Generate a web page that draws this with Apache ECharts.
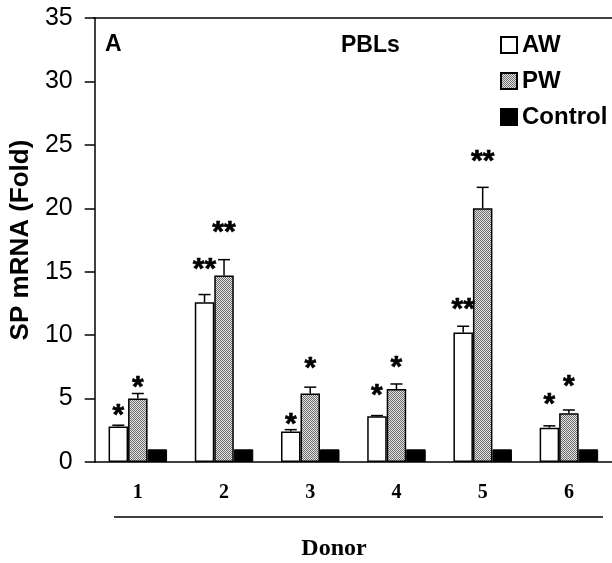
<!DOCTYPE html>
<html><head><meta charset="utf-8">
<script src="https://cdn.jsdelivr.net/npm/echarts@6/dist/echarts.min.js"></script>
<style>html,body{margin:0;padding:0;background:#fff}#c{width:612px;height:563px}</style>
</head><body><div id="c"></div>
<script>
const donors = ['1', '2', '3', '4', '5', '6'];
const awMean = [2.8, 12.6, 2.4, 3.6, 10.2, 2.7];
const awErr = [0.1, 0.6, 0.15, 0.06, 0.5, 0.15];
const pwMean = [5.0, 14.7, 5.4, 5.75, 20.0, 3.85];
const pwErr = [0.4, 1.25, 0.5, 0.4, 1.65, 0.25];
const ctrlMean = [1, 1, 1, 1, 1, 1];
const awStars = ['*', '**', '*', '*', '**', '*'];
const pwStars = ['*', '**', '*', '*', '**', '*'];
const awStarLevel = [4.26, 15.76, 3.55, 5.83, 12.61, 5.12];
const pwStarLevel = [6.46, 18.68, 7.96, 8.04, 24.27, 6.54];
const yMin = 0, yMax = 35, yStep = 5;

const BAR_W = 19.5;
const SANS = '"Liberation Sans", Arial, sans-serif';
const SERIF = '"Liberation Serif", "Times New Roman", serif';

const pc = document.createElement('canvas');
pc.width = 4; pc.height = 4;
const pctx = pc.getContext('2d');
pctx.fillStyle = '#e2e2e2'; pctx.fillRect(0, 0, 4, 4);
pctx.fillStyle = '#6e6e6e';
for (let y = 0; y < 4; y++) for (let x = 0; x < 4; x++) if ((x + y) % 2 === 0) pctx.fillRect(x, y, 1, 1);
const hatch = { image: pc, repeat: 'repeat' };

function errSeries(name, means, errs, offset) {
  return {
    type: 'custom', name: name + ' err', z: 5, silent: true,
    data: means.map((m, i) => [i, m, errs[i]]),
    renderItem: (params, api) => {
      const i = api.value(0), m = api.value(1), e = api.value(2);
      const base = api.coord([i, m]);
      const top = api.coord([i, m + e]);
      const x = base[0] + offset;
      const st = { stroke: '#000', lineWidth: 1.5 };
      return { type: 'group', children: [
        { type: 'line', shape: { x1: x, y1: base[1], x2: x, y2: top[1] }, style: st },
        { type: 'line', shape: { x1: x - 6, y1: top[1], x2: x + 6, y2: top[1] }, style: st }
      ]};
    }
  };
}
function starSeries(name, labels, levels, offset) {
  return {
    type: 'custom', name: name + ' stars', z: 6, silent: true,
    data: levels.map((v, i) => [i, v, labels[i]]),
    renderItem: (params, api) => {
      const p = api.coord([api.value(0), api.value(1)]);
      return { type: 'text', x: p[0] + offset, y: p[1] + 8,
        style: { text: labels[params.dataIndex], font: 'bold 30px ' + SANS, fill: '#000',
          stroke: '#000', lineWidth: 0.6, align: 'center', verticalAlign: 'middle' } };
    }
  };
}

const chart = echarts.init(document.getElementById('c'), null, { renderer: 'canvas' });
chart.setOption({
  animation: false,
  backgroundColor: '#fff',
  grid: { left: 93, top: 18, width: 525, height: 444 },
  legend: {
    orient: 'vertical', left: 495, top: 28, itemWidth: 16, itemHeight: 16, itemGap: 12,
    icon: 'rect', data: ['AW', 'PW', 'Control'],
    textStyle: { fontFamily: SANS, fontWeight: 'bold', fontSize: 24, color: '#000' }
  },
  xAxis: {
    type: 'category', data: donors,
    axisLine: { lineStyle: { color: '#000', width: 1.5 } },
    axisTick: { show: false },
    axisLabel: { fontFamily: SERIF, fontWeight: 'bold', fontSize: 20, color: '#000', margin: 21 }
  },
  yAxis: {
    type: 'value', min: yMin, max: yMax, interval: yStep,
    name: 'SP mRNA (Fold)', nameLocation: 'middle', nameGap: 45,
    nameTextStyle: { fontFamily: SANS, fontWeight: 'bold', fontSize: 26, color: '#000' },
    splitLine: { show: false },
    axisLine: { show: true, lineStyle: { color: '#000', width: 1.5 } },
    axisTick: { show: true, length: 10, lineStyle: { color: '#000', width: 1.5 } },
    axisLabel: { fontFamily: SANS, fontSize: 25, color: '#000', margin: 22 }
  },
  series: [
    { name: 'AW', type: 'bar', data: awMean, barWidth: BAR_W, barGap: '0%',
      itemStyle: { color: '#fff', borderColor: '#000', borderWidth: 1.5 } },
    { name: 'PW', type: 'bar', data: pwMean, barWidth: BAR_W, barGap: '0%',
      itemStyle: { color: hatch, borderColor: '#000', borderWidth: 1.5 } },
    { name: 'Control', type: 'bar', data: ctrlMean, barWidth: BAR_W, barGap: '0%',
      itemStyle: { color: '#000', borderColor: '#000', borderWidth: 1 } },
    errSeries('AW', awMean, awErr, -BAR_W),
    errSeries('PW', pwMean, pwErr, 0),
    starSeries('AW', awStars, awStarLevel, -BAR_W),
    starSeries('PW', pwStars, pwStarLevel, 0)
  ],
  graphic: [
    { type: 'line', shape: { x1: 93, y1: 18, x2: 612, y2: 18 }, style: { stroke: '#000', lineWidth: 1.5 } },
    { type: 'text', x: 105, y: 45, style: { text: 'A', font: 'bold 23px ' + SANS, fill: '#000', verticalAlign: 'middle' } },
    { type: 'text', x: 341, y: 46, style: { text: 'PBLs', font: 'bold 23px ' + SANS, fill: '#000', verticalAlign: 'middle' } },
    { type: 'line', shape: { x1: 114, y1: 517, x2: 603, y2: 517 }, style: { stroke: '#000', lineWidth: 1.5 } },
    { type: 'text', x: 334, y: 549, style: { text: 'Donor', font: 'bold 24px ' + SERIF, fill: '#000', align: 'center', verticalAlign: 'middle' } }
  ]
});
</script>
</body></html>
